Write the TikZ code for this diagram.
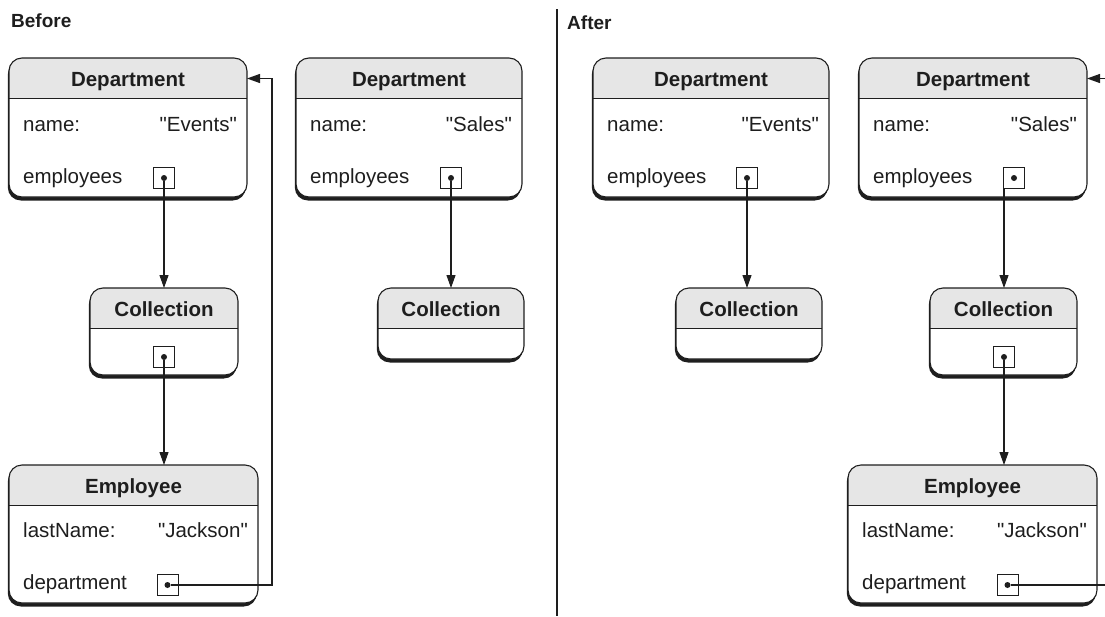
\documentclass[tikz,border=0pt]{standalone}
\usepackage{fontspec}
\setmainfont{Liberation Sans}
\usetikzlibrary{arrows.meta,calc}

\definecolor{ink}{HTML}{1E1E1E}
\definecolor{headgray}{HTML}{E6E6E6}

% straight quotes round a value
\newcommand{\strq}[1]{\textquotedbl#1\textquotedbl}

% object box: id, left x, top y, width, height, title
\newcommand{\objbox}[6]{%
  \fill[ink, rounded corners=13pt] (#2-1.2,#3+3.5) rectangle ++(#4,#5);
  \node[objshape, minimum width=#4pt, minimum height=#5pt] (#1) at (#2,#3) {};
  \begin{scope}
    \clip[rounded corners=13pt] (#1.north west) rectangle (#1.south east);
    \fill[headgray] (#1.north west) rectangle ($(#1.north east)+(0,40)$);
  \end{scope}
  \draw[ink, line width=0.7pt] ($(#1.north west)+(0,40)$) -- ($(#1.north east)+(0,40)$);
  \draw[ink, line width=1.1pt, rounded corners=13pt] (#1.north west) rectangle (#1.south east);
  \node[objtitle] (#1-t) at ($(#1.north)+(0,28)$) {#6};
}
% field row: box, key, baseline offset, label, value
\newcommand{\fieldrow}[5]{%
  \node[objfield, anchor=base west] (#1-#2) at ($(#1.north west)+(14,#3)$) {#4};
  \node[objfield, anchor=base east] (#1-#2v) at ($(#1.north east)+(-10,#3)$) {#5};
}
% reference slot: box, dx, dy
\newcommand{\slotat}[3]{%
  \node[slotbox] (#1-s) at ($(#1.north west)+(#2,#3)$) {};
  \node[slotdot] (#1-d) at (#1-s.center) {};
}

\begin{document}
\begin{tikzpicture}[x=1pt, y=-1pt,
    objshape/.style={rectangle, rounded corners=13pt, fill=white,
        inner sep=0pt, outer sep=0pt, anchor=north west},
    objtitle/.style={font=\fontsize{20.5}{24}\selectfont\bfseries, text=ink,
        anchor=base, inner sep=0pt},
    objfield/.style={font=\fontsize{20.5}{24}\selectfont, text=ink, inner sep=0pt},
    slotbox/.style={draw=ink, line width=0.6pt, minimum size=21pt, inner sep=0pt},
    slotdot/.style={circle, fill=ink, minimum size=6pt, inner sep=0pt},
    reflink/.style={draw=ink, line width=1.1pt, -{Triangle[length=13pt,width=9pt]}},
    panelhead/.style={font=\fontsize{19}{22}\selectfont\bfseries, text=ink,
        anchor=base west, inner sep=0pt}
]
    \useasboundingbox (0,0) rectangle (1105,616);
    \clip (0,0) rectangle (1105,616);

    % panels
    \node[panelhead] (before) at (11,27) {Before};
    \node[panelhead] (after) at (567,29) {After};
    \draw[ink, line width=1.4pt] (557,9) -- (557,616);

    % before
    \objbox{evA}{9}{58}{238}{139}{Department}
    \fieldrow{evA}{name}{73}{name:}{\strq{Events}}
    \node[objfield, anchor=base west] (evA-emp) at ($(evA.north west)+(14,125)$) {employees};
    \slotat{evA}{155}{120}

    \objbox{salesA}{296}{58}{226}{139}{Department}
    \fieldrow{salesA}{name}{73}{name:}{\strq{Sales}}
    \node[objfield, anchor=base west] (salesA-emp) at ($(salesA.north west)+(14,125)$) {employees};
    \slotat{salesA}{155}{120}

    \objbox{colA1}{90}{288}{148}{87}{Collection}
    \slotat{colA1}{74}{69}

    \objbox{colA2}{378}{288}{146}{71}{Collection}

    \objbox{empA}{9}{465}{249}{138}{Employee}
    \fieldrow{empA}{last}{72}{lastName:}{\strq{Jackson}}
    \node[objfield, anchor=base west] (empA-dep) at ($(empA.north west)+(14,124)$) {department};
    \slotat{empA}{158.5}{120}

    \coordinate (loopA) at (272,78.5);
    \draw[reflink] (evA-d) -- (evA-d |- colA1.north);
    \draw[reflink] (colA1-d) -- (colA1-d |- empA.north);
    \draw[reflink] (salesA-d) -- (salesA-d |- colA2.north);
    \draw[reflink] (empA-d) -| (loopA) -- (evA.east |- loopA);

    % after
    \objbox{evB}{593}{58}{236}{139}{Department}
    \fieldrow{evB}{name}{73}{name:}{\strq{Events}}
    \node[objfield, anchor=base west] (evB-emp) at ($(evB.north west)+(14,125)$) {employees};
    \slotat{evB}{154}{120}

    \objbox{salesB}{859}{58}{228}{139}{Department}
    \fieldrow{salesB}{name}{73}{name:}{\strq{Sales}}
    \node[objfield, anchor=base west] (salesB-emp) at ($(salesB.north west)+(14,125)$) {employees};
    \slotat{salesB}{155}{120}

    \objbox{colB1}{676}{288}{146}{71}{Collection}

    \objbox{colB2}{930}{288}{147}{87}{Collection}
    \slotat{colB2}{74}{69}

    \objbox{empB}{848}{465}{249}{138}{Employee}
    \fieldrow{empB}{last}{72}{lastName:}{\strq{Jackson}}
    \node[objfield, anchor=base west] (empB-dep) at ($(empB.north west)+(14,124)$) {department};
    \slotat{empB}{159.5}{120}

    \coordinate (loopB) at (1112,78.5);
    \draw[reflink] (evB-d) -- (evB-d |- colB1.north);
    \draw[reflink] (salesB-s.south -| colB2-d) -- (colB2-d |- colB2.north);
    \draw[reflink] (colB2-d) -- (colB2-d |- empB.north);
    \draw[reflink] (empB-d) -| (loopB) -- (salesB.east |- loopB);
\end{tikzpicture}
\end{document}
